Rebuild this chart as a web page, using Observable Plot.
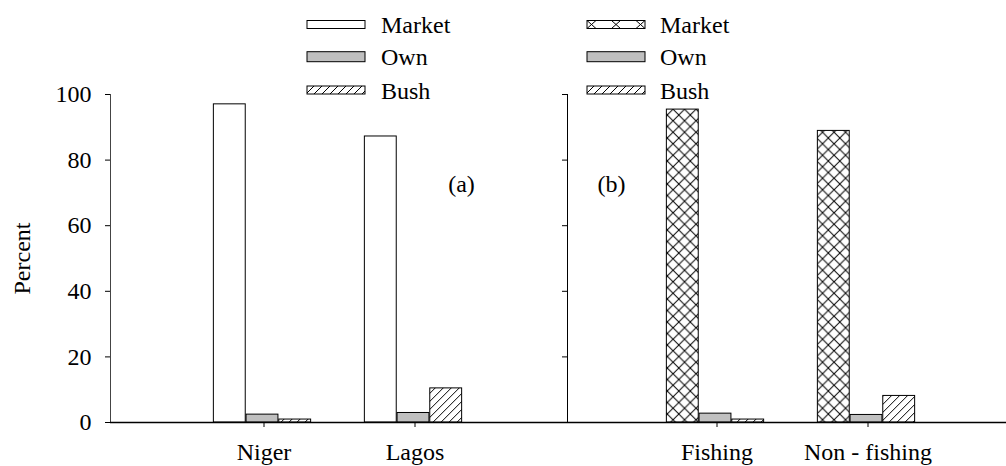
<!DOCTYPE html>
<html><head><meta charset="utf-8">
<script src="https://cdn.jsdelivr.net/npm/d3@7"></script>
<script src="https://cdn.jsdelivr.net/npm/@observablehq/plot@0.6"></script>
<style>
html,body{margin:0;padding:0;background:#fff;overflow:hidden;}
#chart svg{display:block;}
</style></head><body><div id="chart"></div>
<script>
// ---- data ----
const categories = ["Niger", "Lagos", "Fishing", "Non - fishing"];
const panels = ["a", "a", "b", "b"];
const sources = ["Market", "Own", "Bush"];
const market = [97.0, 87.2, 95.4, 88.9];
const own = [2.4, 2.9, 2.7, 2.3];
const bush = [0.9, 10.4, 0.9, 8.1];
const yTicks = [0, 20, 40, 60, 80, 100];
const yLabel = "Percent";
const panelLabels = ["(a)", "(b)"];
const xSlots = ["Niger", "Lagos", "gap", "Fishing", "Non - fishing"];

const seriesValues = [market, own, bush];
const rows = categories.flatMap((c, i) => sources.map((s, j) => ({
  category: c, panel: panels[i], source: s, value: seriesValues[j][i]
})));

const FONT = "Liberation Serif";
const barW = 32.7;

function fillFor(d) {
  if (d.source === "Market") return d.panel === "a" ? "white" : "url(#crossPat)";
  if (d.source === "Own") return "#c0c0c0";
  return "url(#hatchPat)";
}

// pattern definitions
function defsMark() {
  const defs = d3.create("svg:defs");
  const h = defs.append("pattern").attr("id", "hatchPat").attr("patternUnits", "userSpaceOnUse")
    .attr("width", 8).attr("height", 8);
  h.append("rect").attr("width", 8).attr("height", 8).attr("fill", "white");
  h.append("path").attr("d", "M-2,2 L2,-2 M0,8 L8,0 M6,10 L10,6").attr("stroke", "black").attr("stroke-width", 1);
  const P = 11.5;
  const c = defs.append("pattern").attr("id", "crossPat").attr("patternUnits", "userSpaceOnUse")
    .attr("width", P).attr("height", P);
  c.append("rect").attr("width", P).attr("height", P).attr("fill", "white");
  c.append("path").attr("d", `M0,0 L${P},${P} M${P},0 L0,${P}`).attr("stroke", "black").attr("stroke-width", 1);
  return defs.node();
}

function legendMark(swX, textX, crossMarket) {
  return () => {
    const g = d3.create("svg:g");
    const w = 58;
    const rowsY = [24.5, 56.7, 90];
    const hs = [8, 10, 8];
    sources.forEach((s, i) => {
      const y = rowsY[i] - hs[i] / 2;
      let fill = s === "Market" ? "white" : s === "Own" ? "#c0c0c0" : "url(#hatchPat)";
      g.append("rect").attr("x", swX).attr("y", y).attr("width", w).attr("height", hs[i])
        .attr("fill", fill).attr("stroke", "black").attr("stroke-width", 1);
      if (s === "Market" && crossMarket) {
        [0, 24.5, 49].forEach(x0 => {
          g.append("path").attr("d", `M${swX + x0},${y} L${swX + x0 + 9},${y + hs[i]} M${swX + x0 + 9},${y} L${swX + x0},${y + hs[i]}`)
            .attr("stroke", "black").attr("stroke-width", 1).attr("fill", "none");
        });
      }
      g.append("text").attr("x", textX).attr("y", rowsY[i] + 8.5).attr("font-family", FONT)
        .attr("font-size", 24).attr("fill", "black").attr("text-anchor", "start").text(s);
    });
    return g.node();
  };
}

const barMarks = sources.map((s, j) => Plot.barY(rows.filter(d => d.source === s), {
  x: "category", y: "value", fill: fillFor, stroke: "black", strokeWidth: 1,
  insetLeft: (151.83 - barW) / 2, insetRight: (151.83 - barW) / 2, dx: (j - 1) * barW - 1.5
}));

const chart = Plot.plot({
  width: 1006, height: 466,
  marginTop: 94, marginBottom: 44, marginLeft: 110, marginRight: 0,
  style: {fontFamily: FONT, fontSize: "24px", color: "black", background: "white"},
  x: {type: "band", domain: xSlots, range: [110, 1021], paddingInner: 0, paddingOuter: 0.5, axis: null},
  y: {domain: [0, 100], axis: null},
  marks: [
    defsMark,
    ...barMarks,
    Plot.frame({anchor: "left", stroke: "#444"}),
    Plot.ruleX(["gap"], {dx: 1.5, stroke: "black"}),
    Plot.axisY({ticks: yTicks, tickSize: 5, tickPadding: 14, label: null, fontSize: 24}),
    Plot.axisY({ticks: yTicks, tickSize: 5, text: null, label: null, dx: 457}),
    Plot.ruleY([0], {stroke: "black", strokeWidth: 1.5}),
    Plot.axisX({ticks: categories, tickSize: 5, tickPadding: 15, label: null, fontSize: 24}),
    Plot.text([yLabel], {frameAnchor: "left", rotate: -90, dx: -88, fontSize: 24, textAnchor: "middle", lineAnchor: "middle"}),
    Plot.text([panelLabels[0]], {frameAnchor: "top-left", dx: 351, dy: 90, fontSize: 24, textAnchor: "middle", lineAnchor: "middle"}),
    Plot.text([panelLabels[1]], {frameAnchor: "top-left", dx: 501, dy: 90, fontSize: 24, textAnchor: "middle", lineAnchor: "middle"}),
    legendMark(307, 381, false),
    legendMark(587, 660, true)
  ]
});
document.getElementById("chart").appendChild(chart);
</script>
</body></html>
